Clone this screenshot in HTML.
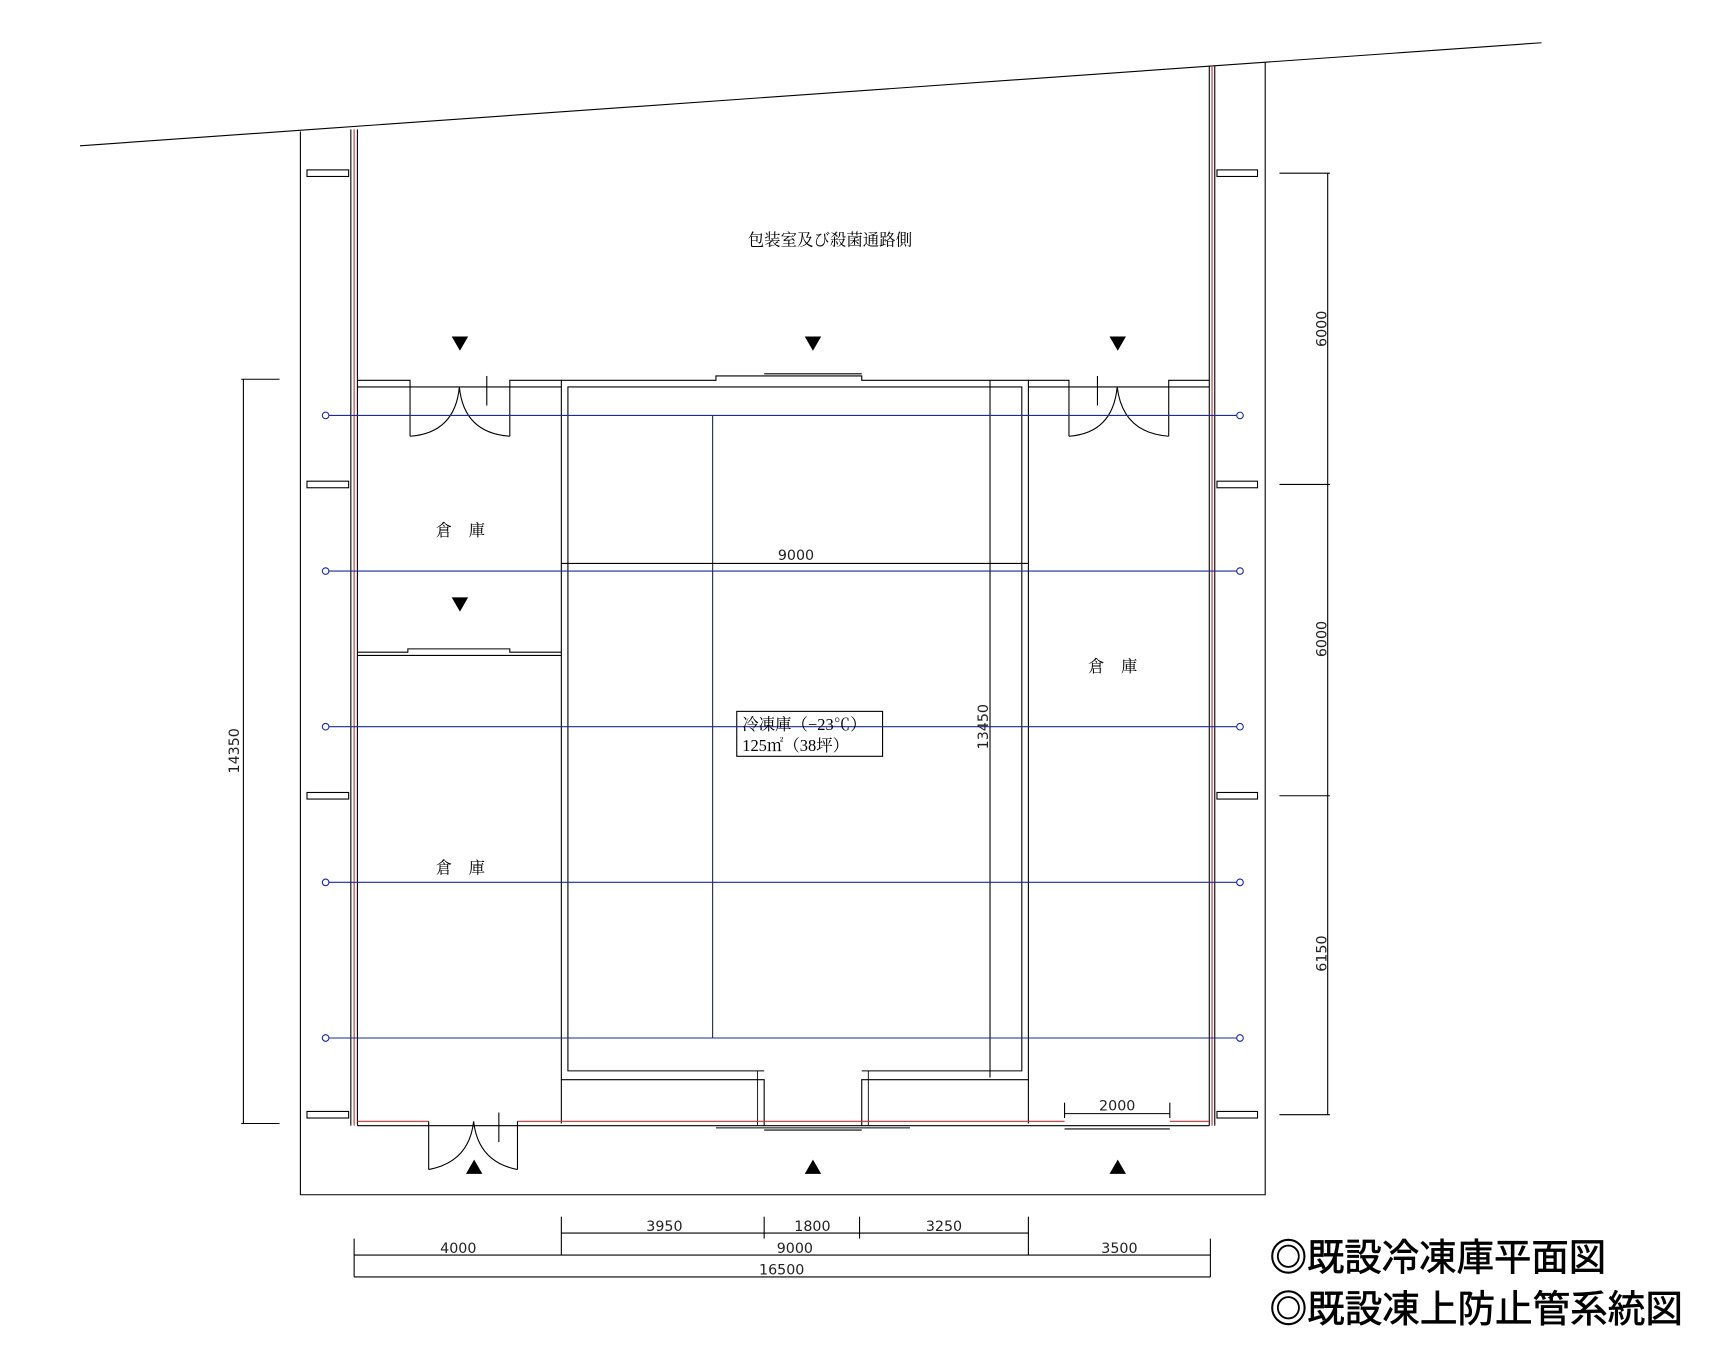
<!DOCTYPE html>
<html><head><meta charset="utf-8"><style>html,body{margin:0;padding:0;background:#fff}svg{display:block}</style></head>
<body>
<svg width="1718" height="1346" viewBox="0 0 1567 1228" preserveAspectRatio="none" xmlns="http://www.w3.org/2000/svg" font-family="Liberation Serif, Noto Serif CJK SC, serif">
<g fill="none" stroke="#000" stroke-width="1">
<line x1="73" y1="133" x2="1406" y2="39"/>
<polyline points="274,120 274,1090 1154,1090 1154,57"/>
<line x1="320" y1="118" x2="320" y2="1027"/>
<line x1="326" y1="118" x2="326" y2="1027"/>
<line x1="323" y1="118" x2="323" y2="1027" stroke="#b33"/>
<line x1="1103" y1="60" x2="1103" y2="1027"/>
<line x1="1108" y1="60" x2="1108" y2="1027"/>
<line x1="1105.5" y1="60" x2="1105.5" y2="1027" stroke="#b33"/>
<g>
<rect x="280" y="155" width="38" height="6"/><rect x="280" y="439" width="38" height="6"/><rect x="280" y="723" width="38" height="6"/><rect x="280" y="1014" width="38" height="6"/>
<rect x="1110" y="155" width="37" height="6"/><rect x="1110" y="439" width="37" height="6"/><rect x="1110" y="723" width="37" height="6"/><rect x="1110" y="1014" width="37" height="6"/>
</g>
<polyline points="326,347 374,347 374,353 326,353"/>
<polyline points="465,353 465,347 512,347"/>
<line x1="465" y1="353" x2="512" y2="353"/>
<polyline points="938,347 975,347 975,353 938,353"/>
<polyline points="1066,353 1066,347 1103,347"/>
<line x1="1066" y1="353" x2="1103" y2="353"/>
<line x1="374" y1="353" x2="465" y2="353"/>
<line x1="975" y1="353" x2="1066" y2="353"/>
<line x1="374" y1="353" x2="374" y2="398"/><line x1="465" y1="353" x2="465" y2="398"/>
<path d="M374,398 Q415,395 419,353 M465,398 Q423,395 419,353"/>
<line x1="975" y1="353" x2="975" y2="398"/><line x1="1066" y1="353" x2="1066" y2="398"/>
<path d="M975,398 Q1015,395 1019,353 M1066,398 Q1024,395 1019,353"/>
<line x1="444" y1="343" x2="444" y2="370"/><line x1="1001" y1="343" x2="1001" y2="370"/>
<line x1="455" y1="1015" x2="455" y2="1042"/>
<polyline points="697,977 518,977 518,353 932,353 932,977 786,977"/>
<polyline points="697,1027 697,985 512,985 512,347 653,347 653,343 786,343 786,347 938,347 938,985 786,985 786,1027"/>
<polyline points="691,1027 691,977" stroke-width="0.8"/><polyline points="792,1027 792,977" stroke-width="0.8"/>
<line x1="697" y1="341" x2="786" y2="341"/>
<line x1="650" y1="379" x2="650" y2="947" stroke="#224"/>
<line x1="512" y1="514" x2="938" y2="514"/>
<line x1="903" y1="347" x2="903" y2="983"/>
<rect x="672" y="649" width="133" height="41"/>
<polyline points="326,595 372,595 372,592 465,592 465,595 512,595"/>
<line x1="326" y1="598" x2="512" y2="598"/>
<line x1="512" y1="985" x2="512" y2="1025"/>
<line x1="938" y1="985" x2="938" y2="1025"/>
<line x1="326" y1="1027" x2="1103" y2="1027"/>
<line x1="326" y1="1023" x2="391" y2="1023" stroke="#b33"/>
<line x1="472" y1="1023" x2="971" y2="1023" stroke="#b33"/>
<line x1="1067" y1="1023" x2="1103" y2="1023" stroke="#b33"/>
<line x1="697" y1="1031" x2="786" y2="1031"/><line x1="653" y1="1029" x2="830" y2="1029"/>
<line x1="971" y1="1030" x2="1067" y2="1030"/>
<line x1="391" y1="1023" x2="391" y2="1067"/><line x1="472" y1="1023" x2="472" y2="1067"/>
<path d="M391,1067 Q428,1060 432,1023 M472,1067 Q436,1060 432,1023"/>
<line x1="222" y1="346" x2="222" y2="1025"/><line x1="220" y1="346" x2="255" y2="346"/><line x1="220" y1="1025" x2="255" y2="1025"/>
<line x1="1211" y1="158" x2="1211" y2="1017"/>
<line x1="1167" y1="158" x2="1213" y2="158"/><line x1="1167" y1="442" x2="1213" y2="442"/><line x1="1167" y1="726" x2="1213" y2="726"/><line x1="1167" y1="1017" x2="1213" y2="1017"/>
<line x1="512" y1="1125" x2="938" y2="1125"/>
<line x1="512" y1="1110" x2="512" y2="1145"/><line x1="697" y1="1110" x2="697" y2="1130"/><line x1="784" y1="1110" x2="784" y2="1130"/><line x1="938" y1="1110" x2="938" y2="1145"/>
<line x1="323" y1="1145" x2="1104" y2="1145"/><line x1="323" y1="1130" x2="323" y2="1165"/><line x1="1104" y1="1130" x2="1104" y2="1165"/>
<line x1="323" y1="1165" x2="1104" y2="1165"/>
<line x1="971" y1="1016" x2="1067" y2="1016"/><line x1="971" y1="1006" x2="971" y2="1020"/><line x1="1067" y1="1006" x2="1067" y2="1020"/>
</g>
<g stroke="#1a2a9a" stroke-width="1" fill="none">
<line x1="300" y1="379" x2="1128" y2="379"/><line x1="300" y1="521" x2="1128" y2="521"/><line x1="300" y1="663" x2="1128" y2="663"/><line x1="300" y1="805" x2="1128" y2="805"/><line x1="300" y1="947" x2="1128" y2="947"/>
<circle cx="297" cy="379" r="3"/><circle cx="297" cy="521" r="3"/><circle cx="297" cy="663" r="3"/><circle cx="297" cy="805" r="3"/><circle cx="297" cy="947" r="3"/>
<circle cx="1131" cy="379" r="3"/><circle cx="1131" cy="521" r="3"/><circle cx="1131" cy="663" r="3"/><circle cx="1131" cy="805" r="3"/><circle cx="1131" cy="947" r="3"/>
</g>
<g fill="#000">
<path d="M412,307h15l-7.5,13z M734,307h15l-7.5,13z M1012,307h15l-7.5,13z M412,545h15l-7.5,13z"/>
<path d="M425,1071h15l-7.5,-13z M734,1071h15l-7.5,-13z M1012,1071h15l-7.5,-13z"/>
</g>
<g font-size="15" fill="#000" text-anchor="middle">
<text x="757" y="224">包装室及び殺菌通路側</text>
<text x="420" y="489">倉　庫</text>
<text x="420" y="797">倉　庫</text>
<text x="1015" y="613">倉　庫</text>
</g>
<g font-size="15" fill="#000">
<text x="677" y="666">冷凍庫（−23℃）</text>
<text x="677" y="685">125㎡（38坪）</text>
</g>
<g font-family="DejaVu Sans, sans-serif" font-size="13" fill="#222" text-anchor="middle">
<text x="726" y="511">9000</text>
<text x="606" y="1123">3950</text><text x="741" y="1123">1800</text><text x="861" y="1123">3250</text>
<text x="418" y="1143">4000</text><text x="725" y="1143">9000</text><text x="1021" y="1143">3500</text>
<text x="713" y="1163">16500</text>
<text x="1019" y="1013">2000</text>
<text transform="translate(218,685) rotate(-90)">14350</text>
<text transform="translate(901,663) rotate(-90)">13450</text>
<text transform="translate(1210,300) rotate(-90)">6000</text>
<text transform="translate(1210,583) rotate(-90)">6000</text>
<text transform="translate(1210,870) rotate(-90)">6150</text>
</g>
<g font-family="Liberation Sans, Noto Sans CJK JP, sans-serif" font-size="34" fill="#000" stroke="#000" stroke-width="0.6">
<text x="1158" y="1159" textLength="307" lengthAdjust="spacingAndGlyphs">◎既設冷凍庫平面図</text>
<text x="1158" y="1206" textLength="377" lengthAdjust="spacingAndGlyphs">◎既設凍上防止管系統図</text>
</g>
</svg>
</body></html>
